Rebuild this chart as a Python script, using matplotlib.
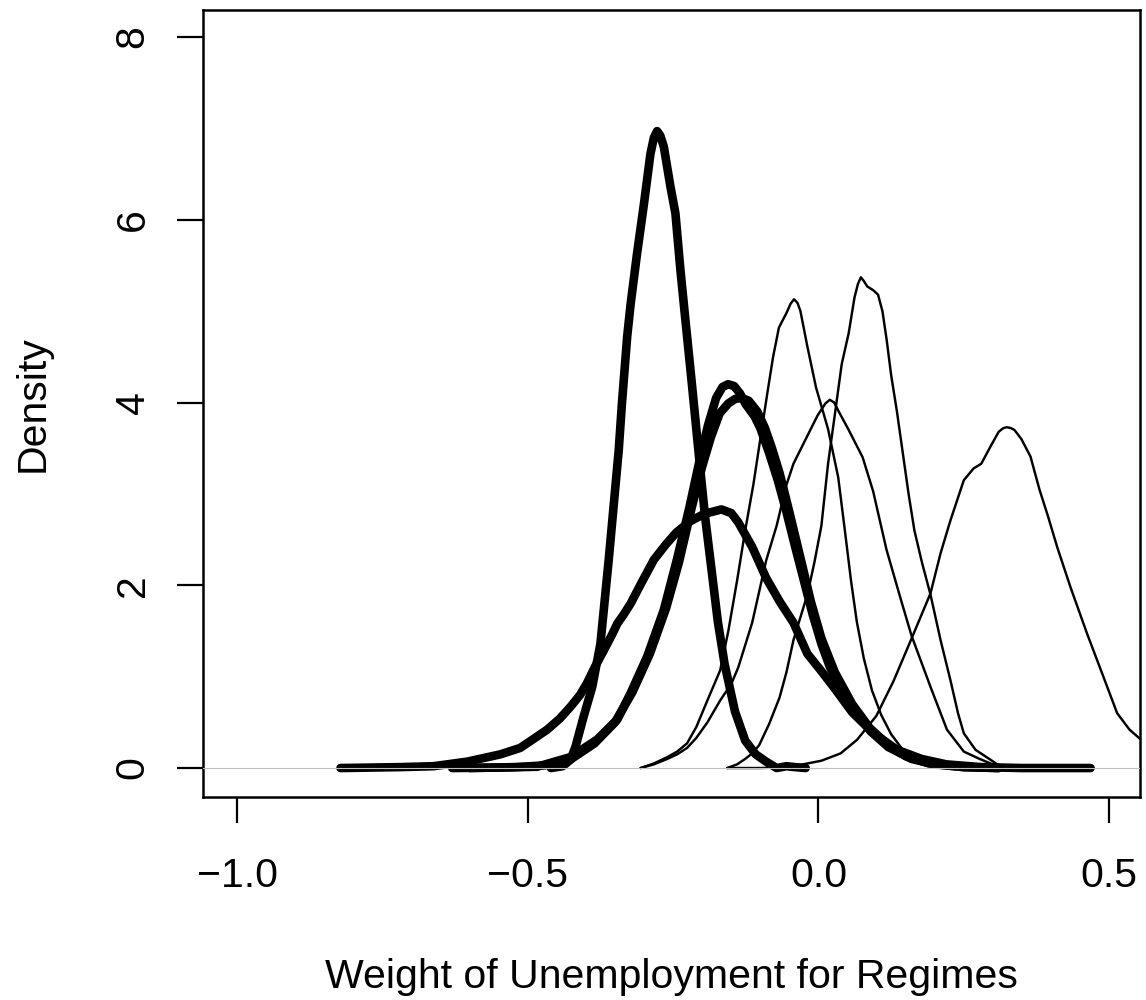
import matplotlib
matplotlib.use("Agg")
import matplotlib.pyplot as plt

plt.rcParams['font.family'] = ['Liberation Sans', 'DejaVu Sans']

# posterior densities, thick lines
a_x = [-0.46, -0.44, -0.4265, -0.418, -0.404, -0.389, -0.375, -0.3607, -0.3435, -0.338, -0.329,
       -0.323, -0.312, -0.300, -0.289, -0.283, -0.2775, -0.272, -0.266, -0.2545, -0.246, -0.2374,
       -0.2288, -0.220, -0.2116, -0.203, -0.195, -0.186, -0.173, -0.1615, -0.1436, -0.126, -0.108,
       -0.090, -0.072, -0.055, -0.040, -0.022]
a_y = [0.0, 0.02, 0.09, 0.23, 0.56, 0.89, 1.36, 2.28, 3.48, 3.99, 4.72,
       5.08, 5.63, 6.18, 6.72, 6.90, 6.97, 6.92, 6.80, 6.36, 6.07, 5.45,
       4.90, 4.35, 3.81, 3.25, 2.75, 2.28, 1.60, 1.14, 0.62, 0.30, 0.15,
       0.07, 0.0, 0.02, 0.01, 0.0]

b1_x = [-0.63, -0.55, -0.484, -0.4265, -0.381, -0.346, -0.323, -0.2946, -0.266, -0.2435, -0.222,
        -0.205, -0.19, -0.176, -0.165, -0.1555, -0.145, -0.135, -0.125, -0.11, -0.10, -0.085,
        -0.07, -0.055, -0.04, -0.025, -0.01, 0.005, 0.02, 0.04, 0.065, 0.09, 0.12, 0.16, 0.2,
        0.25, 0.31]
b1_y = [0.0, 0.005, 0.014, 0.12, 0.31, 0.53, 0.82, 1.22, 1.73, 2.28, 2.85,
        3.35, 3.75, 4.05, 4.17, 4.20, 4.18, 4.10, 3.98, 3.85, 3.72, 3.45,
        3.15, 2.80, 2.42, 2.05, 1.68, 1.36, 1.10, 0.85, 0.60, 0.40, 0.23, 0.10, 0.04,
        0.01, 0.0]

b2_x = [-0.60, -0.52, -0.47, -0.425, -0.385, -0.35, -0.32, -0.29, -0.262, -0.24, -0.218,
        -0.2, -0.185, -0.17, -0.155, -0.143, -0.132, -0.12, -0.105, -0.092, -0.08, -0.0665,
        -0.05, -0.031, -0.013, 0.005, 0.028, 0.058, 0.088, 0.12, 0.15, 0.19, 0.25, 0.31]
b2_y = [0.0, 0.01, 0.03, 0.10, 0.27, 0.50, 0.83, 1.25, 1.75, 2.25, 2.85,
        3.30, 3.62, 3.88, 3.99, 4.04, 4.05, 4.02, 3.90, 3.72, 3.50, 3.22,
        2.80, 2.30, 1.82, 1.42, 1.05, 0.70, 0.44, 0.25, 0.13, 0.05, 0.01, 0.0]

f_x = [-0.822, -0.72, -0.662, -0.604, -0.547, -0.513, -0.4897, -0.4666, -0.445, -0.4265, -0.41,
       -0.398, -0.385, -0.369, -0.355, -0.346, -0.335, -0.323, -0.305, -0.283, -0.262, -0.244,
       -0.2207, -0.197, -0.167, -0.15, -0.138, -0.114, -0.090, -0.0665, -0.043, -0.019, 0.005,
       0.028, 0.058, 0.094, 0.135, 0.177, 0.22, 0.28, 0.35, 0.468]
f_y = [0.0, 0.01, 0.02, 0.07, 0.15, 0.22, 0.32, 0.42, 0.54, 0.67, 0.80,
       0.93, 1.10, 1.29, 1.46, 1.58, 1.68, 1.80, 2.02, 2.28, 2.45, 2.58,
       2.70, 2.78, 2.83, 2.79, 2.69, 2.42, 2.08, 1.82, 1.59, 1.25, 1.06,
       0.87, 0.61, 0.385, 0.20, 0.10, 0.04, 0.01, 0.0, 0.0]

# thin lines
t1_x = [-0.306, -0.283, -0.26, -0.243, -0.226, -0.21, -0.191, -0.169, -0.155, -0.14, -0.126,
        -0.112, -0.10, -0.088, -0.078, -0.068, -0.055, -0.048, -0.042, -0.036, -0.031, -0.019,
        -0.004, 0.0165, 0.034, 0.046, 0.056, 0.066, 0.078, 0.092, 0.108, 0.125, 0.145, 0.165,
        0.19, 0.23, 0.27]
t1_y = [0.0, 0.05, 0.12, 0.18, 0.27, 0.45, 0.74, 1.07, 1.50, 2.05, 2.60,
        3.10, 3.60, 4.10, 4.50, 4.82, 4.98, 5.08, 5.13, 5.09, 5.00, 4.61,
        4.16, 3.71, 3.18, 2.57, 2.05, 1.60, 1.20, 0.85, 0.58, 0.37, 0.20, 0.10,
        0.04, 0.01, 0.0]

c_x = [-0.157, -0.14, -0.126, -0.114, -0.102, -0.085, -0.067, -0.055, -0.043, -0.031, -0.019,
       -0.007, 0.005, 0.0165, 0.028, 0.040, 0.052, 0.062, 0.068, 0.073, 0.078, 0.084, 0.094,
       0.1025, 0.110, 0.117, 0.125, 0.135, 0.145, 0.155, 0.165, 0.178, 0.1926, 0.21, 0.227,
       0.24, 0.25, 0.27, 0.296, 0.31, 0.33]
c_y = [0.0, 0.04, 0.10, 0.16, 0.25, 0.48, 0.77, 1.05, 1.40, 1.65, 1.90,
       2.25, 2.65, 3.33, 3.86, 4.42, 4.76, 5.15, 5.30, 5.37, 5.33, 5.27, 5.23,
       5.18, 5.00, 4.70, 4.30, 3.90, 3.45, 3.00, 2.60, 2.25, 1.90, 1.40, 0.96,
       0.60, 0.38, 0.20, 0.09, 0.03, 0.0]

d_x = [-0.306, -0.283, -0.26, -0.243, -0.226, -0.21, -0.191, -0.169, -0.150, -0.138, -0.114,
       -0.090, -0.072, -0.055, -0.043, -0.025, -0.0014, 0.012, 0.0195, 0.027, 0.035, 0.052,
       0.076, 0.094, 0.117, 0.141, 0.160, 0.1926, 0.221, 0.25, 0.277, 0.296, 0.31]
d_y = [0.0, 0.04, 0.10, 0.15, 0.22, 0.33, 0.50, 0.74, 0.92, 1.10, 1.59,
       2.27, 2.65, 3.10, 3.33, 3.56, 3.86, 3.99, 4.03, 4.00, 3.90, 3.70,
       3.40, 3.03, 2.39, 1.86, 1.45, 0.89, 0.42, 0.18, 0.10, 0.05, 0.0]

e_x = [-0.157, -0.10, -0.05, -0.019, 0.005, 0.038, 0.0665, 0.0995, 0.129, 0.159, 0.1926,
       0.21, 0.227, 0.250, 0.267, 0.28, 0.296, 0.31, 0.318, 0.324, 0.331, 0.337, 0.349, 0.3646,
       0.38, 0.395, 0.4105, 0.4334, 0.462, 0.49, 0.5137, 0.535, 0.553, 0.58, 0.62, 0.66]
e_y = [0.0, 0.0, 0.01, 0.05, 0.08, 0.16, 0.31, 0.57, 0.95, 1.40, 1.91,
       2.35, 2.71, 3.15, 3.28, 3.33, 3.52, 3.68, 3.72, 3.73, 3.72, 3.70, 3.60, 3.41,
       3.05, 2.75, 2.42, 1.98, 1.47, 1.00, 0.60, 0.42, 0.32, 0.15, 0.05, 0.0]

thick = [(a_x, a_y), (b1_x, b1_y), (b2_x, b2_y), (f_x, f_y)]
thin = [(t1_x, t1_y), (c_x, c_y), (d_x, d_y), (e_x, e_y)]

fig = plt.figure(figsize=(11.46, 10), dpi=100)
ax = fig.add_axes([203 / 1146, 1 - 797 / 1000, 937 / 1146, 787 / 1000])

for xs, ys in thick:
    ax.plot(xs, ys, color='black', lw=6.2, solid_capstyle='round', solid_joinstyle='round')
for xs, ys in thin:
    ax.plot(xs, ys, color='black', lw=1.75, solid_capstyle='round', solid_joinstyle='round')
ax.axhline(0, color='#bebebe', lw=0.8, zorder=5)

ax.set_xlim(-1.0585, 0.553)
ax.set_ylim(-0.317, 8.2955)
ax.set_xticks([-1.0, -0.5, 0.0, 0.5])
ax.set_xticklabels(['\u22121.0', '\u22120.5', '0.0', '0.5'])
ax.set_yticks([0, 2, 4, 6, 8])

for s in ax.spines.values():
    s.set_linewidth(1.8)
ax.tick_params(direction='out', length=18.5, width=1.6, labelsize=29.5)
ax.tick_params(axis='x', pad=24.5)
ax.tick_params(axis='y', pad=18.5, labelrotation=90)
for lab in ax.get_yticklabels():
    lab.set_verticalalignment('center')

ax.set_xlabel('Weight of Unemployment for Regimes', fontsize=29.5)
ax.set_ylabel('Density', fontsize=29.5)
ax.xaxis.set_label_coords(0.5, -0.204)
ax.yaxis.set_label_coords(-0.162, 0.5)

fig.savefig('out.png', dpi=100)
